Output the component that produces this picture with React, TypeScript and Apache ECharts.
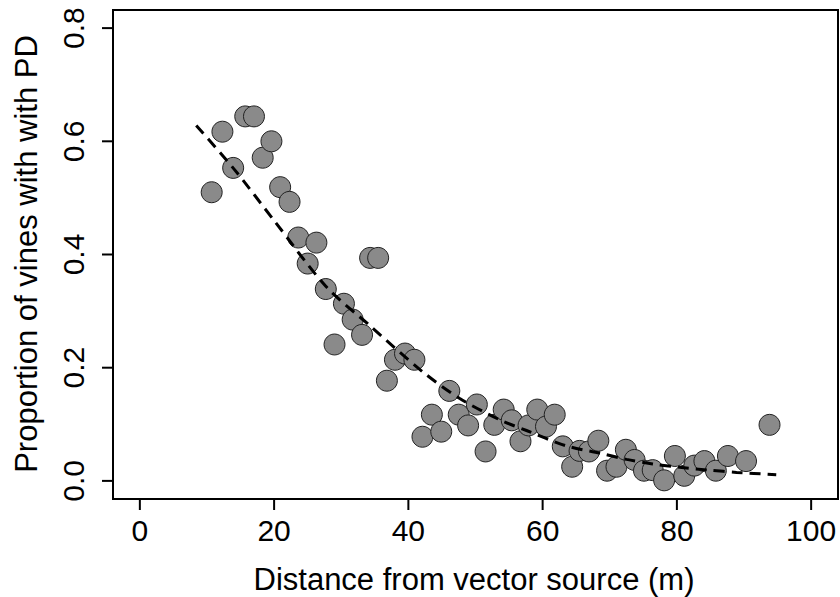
import React, { useEffect, useRef } from "react";
import * as echarts from "echarts";

const distance = [
  10.7, 12.3, 13.9, 15.7, 17.0, 18.3, 19.6, 20.9, 22.3, 23.6, 25.0, 26.3, 27.7, 29.0, 30.4,
  31.7, 33.1, 34.3, 35.5, 36.8, 38.0, 39.5, 40.9, 42.1, 43.5, 44.9, 46.1, 47.5, 48.9, 50.2,
  51.5, 52.8, 54.2, 55.4, 56.7, 57.9, 59.2, 60.5, 61.8, 63.0, 64.4, 65.5, 66.9, 68.3, 69.6,
  71.0, 72.4, 73.7, 75.1, 76.4, 78.1, 79.7, 81.1, 82.6, 84.1, 85.8, 87.6, 90.3, 93.8,
];
const proportion = [
  0.51, 0.617, 0.553, 0.644, 0.644, 0.571, 0.6, 0.519, 0.493, 0.43, 0.384, 0.421, 0.339, 0.241, 0.313,
  0.285, 0.258, 0.394, 0.394, 0.177, 0.214, 0.225, 0.214, 0.078, 0.117, 0.087, 0.159, 0.117, 0.098, 0.135,
  0.052, 0.099, 0.126, 0.107, 0.07, 0.098, 0.126, 0.096, 0.117, 0.061, 0.025, 0.053, 0.052, 0.071, 0.018,
  0.025, 0.055, 0.037, 0.018, 0.019, 0.001, 0.044, 0.009, 0.027, 0.035, 0.018, 0.044, 0.035, 0.099,
];
const fitX = [8.4, 14.1, 20.0, 27.7, 34.2, 42.1, 47.6, 53.6, 57.6, 63.5, 68.5, 72.5, 76.4, 80.4, 84.9, 88.9, 94.8];
const fitY = [0.628, 0.55, 0.46, 0.344, 0.275, 0.193, 0.146, 0.108, 0.089, 0.062, 0.049, 0.038, 0.03, 0.024, 0.019, 0.015, 0.011];
const xTicks = [0, 20, 40, 60, 80, 100];
const yTicks = [0, 0.2, 0.4, 0.6, 0.8];
const xTitle = "Distance from vector source (m)";
const yTitle = "Proportion of vines with with PD";

const X_MIN = -4;
const X_MAX = 104;
const Y_MIN = -0.032;
const Y_MAX = 0.832;

const FONT = "'Liberation Sans', Arial, Helvetica, sans-serif";

export default function App() {
  const ref = useRef<HTMLDivElement>(null);
  useEffect(() => {
    if (!ref.current) return;
    const chart = echarts.init(ref.current, undefined, { renderer: "svg" });
    const points = distance.map((d, i) => [d, proportion[i]]);
    const fit = fitX.map((d, i) => [d, fitY[i]]);
    const hiddenAxis = { show: false, splitLine: { show: false } };
    const tickStyle = { color: "#000", width: 2, type: "solid" };
    const xTickSeries = xTicks.map((v) => ({
      type: "line",
      xAxisIndex: 1,
      yAxisIndex: 1,
      data: [
        [v, 0],
        [v, 1],
      ],
      symbol: "none",
      showSymbol: false,
      silent: true,
      clip: false,
      lineStyle: tickStyle,
      z: 5,
    }));
    const yTickSeries = yTicks.map((v) => ({
      type: "line",
      xAxisIndex: 2,
      yAxisIndex: 2,
      data: [
        [0, v],
        [1, v],
      ],
      symbol: "none",
      showSymbol: false,
      silent: true,
      clip: false,
      lineStyle: tickStyle,
      z: 5,
    }));
    chart.setOption({
      animation: false,
      backgroundColor: "#ffffff",
      grid: [
        {
          left: 113,
          top: 10,
          width: 725,
          height: 489,
          show: true,
          borderColor: "#000",
          borderWidth: 2,
          backgroundColor: "transparent",
          containLabel: false,
        },
        { left: 113, top: 499, width: 725, height: 11, containLabel: false },
        { left: 102, top: 10, width: 11, height: 489, containLabel: false },
      ],
      xAxis: [
        {
          type: "value",
          gridIndex: 0,
          position: "bottom",
          min: X_MIN,
          max: X_MAX,
          axisLine: { show: true, onZero: false, lineStyle: { color: "#000", width: 2 } },
          splitLine: { show: false },
          axisTick: { show: false },
          axisLabel: {
            customValues: xTicks,
            margin: 16,
            color: "#000",
            fontSize: 30,
            fontFamily: FONT,
          },
        },
        { type: "value", gridIndex: 1, min: X_MIN, max: X_MAX, ...hiddenAxis },
        { type: "value", gridIndex: 2, min: 0, max: 1, ...hiddenAxis },
      ],
      yAxis: [
        {
          type: "value",
          gridIndex: 0,
          position: "left",
          min: Y_MIN,
          max: Y_MAX,
          axisLine: { show: true, onZero: false, lineStyle: { color: "#000", width: 2 } },
          splitLine: { show: false },
          axisTick: { show: false },
          axisLabel: {
            customValues: yTicks,
            rotate: 90,
            margin: 25,
            color: "#000",
            fontSize: 30,
            fontFamily: FONT,
            formatter: (v: number) => v.toFixed(1),
          },
        },
        { type: "value", gridIndex: 1, min: 0, max: 1, ...hiddenAxis },
        { type: "value", gridIndex: 2, min: Y_MIN, max: Y_MAX, ...hiddenAxis },
      ],
      graphic: [
        {
          type: "text",
          x: 474,
          y: 579,
          style: {
            text: xTitle,
            fill: "#000",
            font: `31px ${FONT}`,
            textAlign: "center",
            textVerticalAlign: "middle",
          },
        },
        {
          type: "text",
          x: 26,
          y: 254,
          rotation: Math.PI / 2,
          style: {
            text: yTitle,
            fill: "#000",
            font: `31px ${FONT}`,
            textAlign: "center",
            textVerticalAlign: "middle",
          },
        },
      ],
      series: [
        {
          type: "scatter",
          xAxisIndex: 0,
          yAxisIndex: 0,
          data: points,
          symbol: "circle",
          symbolSize: 21,
          itemStyle: { color: "#8a8a8a", borderColor: "#222", borderWidth: 1, opacity: 1 },
          z: 2,
        },
        {
          type: "line",
          xAxisIndex: 0,
          yAxisIndex: 0,
          data: fit,
          smooth: 0.3,
          showSymbol: false,
          symbol: "none",
          lineStyle: { color: "#000", width: 3, type: [11, 7], cap: "butt" },
          z: 3,
        },
        ...xTickSeries,
        ...yTickSeries,
      ],
    });
    return () => chart.dispose();
  }, []);
  return (
    <div
      ref={ref}
      style={{ position: "fixed", left: 0, top: 0, width: 840, height: 597, background: "#fff" }}
    />
  );
}
